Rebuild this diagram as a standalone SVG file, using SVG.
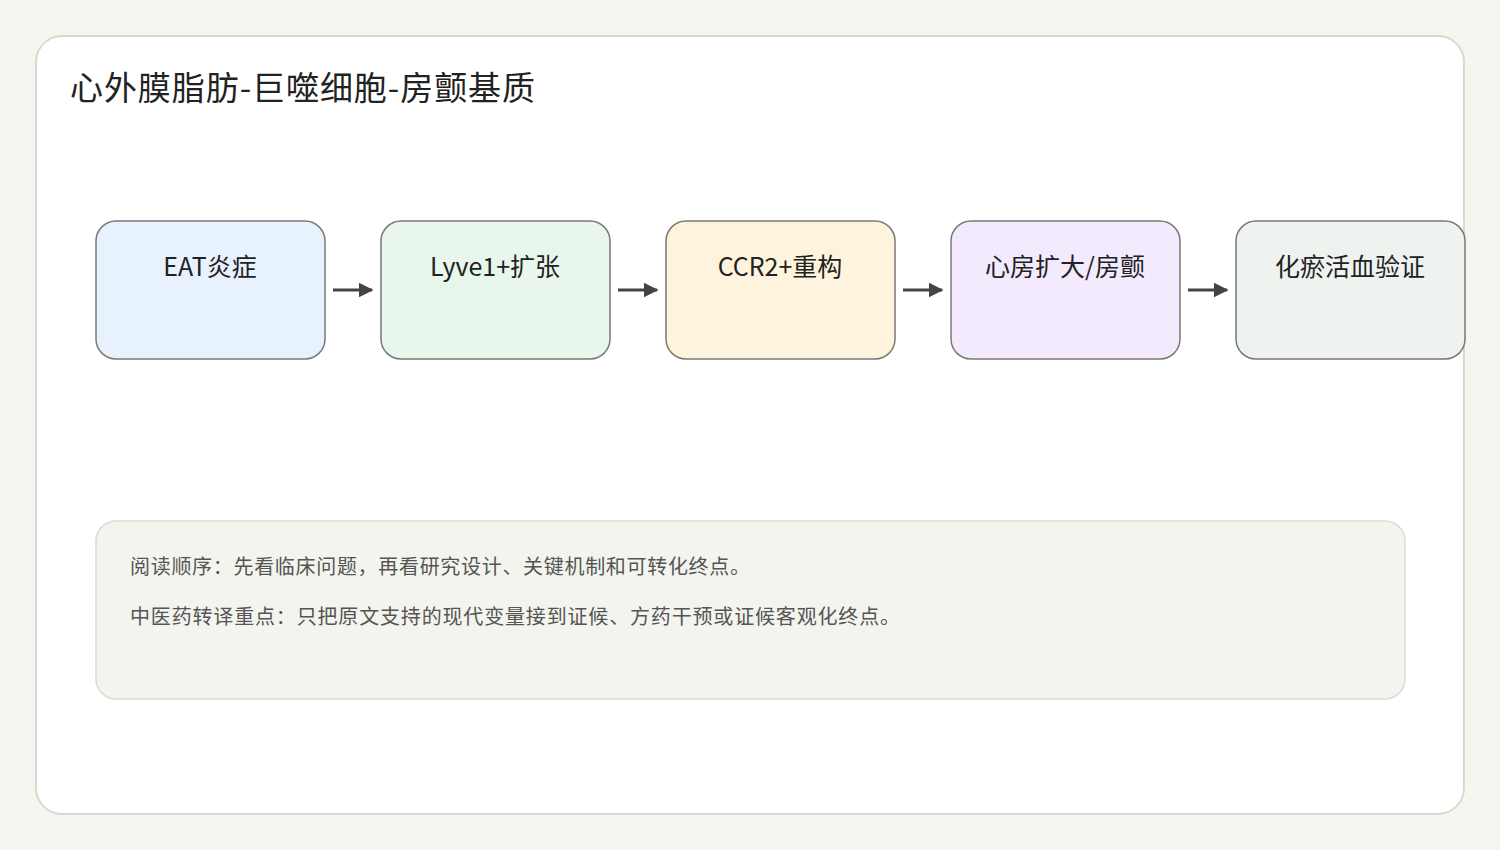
<svg xmlns="http://www.w3.org/2000/svg" width="1500" height="850" viewBox="0 0 1500 850">
<style>
text{font-family:"Noto Sans CJK SC","Liberation Sans",sans-serif;fill:#222}
.n{stroke:#7a7a74;stroke-width:1.5}
.l{font-size:25px;text-anchor:middle}
.c{stroke:#444;stroke-width:3;fill:none;marker-end:url(#a)}
.p{font-size:20px;fill:#555}
</style>
<defs><marker id="a" viewBox="0 0 10 10" refX="9" refY="5" markerWidth="5" markerHeight="6" markerUnits="strokeWidth" orient="auto"><path d="M0 0L10 5L0 10z" fill="#444"/></marker></defs>
<rect width="1500" height="850" fill="#f6f6f1"/>
<rect x="36" y="36" width="1428" height="778" rx="26" fill="#fff" stroke="#d9d9d2" stroke-width="2"/>
<text x="70" y="100" font-size="33" textLength="465">心外膜脂肪-巨噬细胞-房颤基质</text>
<g id="n1"><rect class="n" x="96" y="221" width="229" height="138" rx="20" fill="#e8f1fe"/><text class="l" x="210" y="276">EAT炎症</text></g>
<g id="n2"><rect class="n" x="381" y="221" width="229" height="138" rx="20" fill="#e8f6ec"/><text class="l" x="495" y="276">Lyve1+扩张</text></g>
<g id="n3"><rect class="n" x="666" y="221" width="229" height="138" rx="20" fill="#fef4de"/><text class="l" x="780" y="276">CCR2+重构</text></g>
<g id="n4"><rect class="n" x="951" y="221" width="229" height="138" rx="20" fill="#f3eafd"/><text class="l" x="1065" y="276">心房扩大/房颤</text></g>
<g id="n5"><rect class="n" x="1236" y="221" width="229" height="138" rx="20" fill="#eef3f0"/><text class="l" x="1350" y="276">化瘀活血验证</text></g>
<g id="connectors">
<line class="c" x1="333" y1="290" x2="372" y2="290"/>
<line class="c" x1="618" y1="290" x2="657" y2="290"/>
<line class="c" x1="903" y1="290" x2="942" y2="290"/>
<line class="c" x1="1188" y1="290" x2="1227" y2="290"/>
</g>
<g id="note"><rect x="96" y="521" width="1309" height="178" rx="20" fill="#f3f4ee" stroke="#dcdcd4" stroke-width="1.5"/>
<text class="p" x="130" y="574" textLength="620">阅读顺序：先看临床问题，再看研究设计、关键机制和可转化终点。</text>
<text class="p" x="130" y="624" textLength="770">中医药转译重点：只把原文支持的现代变量接到证候、方药干预或证候客观化终点。</text></g>
</svg>
